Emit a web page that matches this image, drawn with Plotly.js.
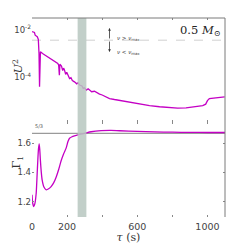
<!DOCTYPE html>
<html><head><meta charset="utf-8">
<script src="https://cdn.plot.ly/plotly-3.0.1.min.js"></script>
<style>html,body{margin:0;padding:0;background:#fff}#plot{width:249px;height:245px}</style>
</head><body><div id="plot"></div>
<script>
// U^2 versus acoustic radius tau (s)
const tauU = [0,5,10,14,18,24,30,36,40,43,45,48,60,80,100,120,135,147,152,156,159,168,175,180,185,192,198,206,214,222,230,242,255,263,271,285,292,299,310,320,328,340,356,370,385,400,420,442,470,499,550,613,670,727,783,830,878,930,973,990,1000,1011,1030,1060,1098];
const u2 = [8.5e-3,8.3e-3,7.8e-3,7.9e-3,6.0e-3,5.8e-3,5.2e-3,4.0e-3,1.0e-3,3.9e-5,6.3e-4,1.2e-3,1.0e-3,7.9e-4,6.3e-4,5.2e-4,4.5e-4,3.8e-4,3.2e-4,1.2e-4,3.5e-4,2.95e-4,1.9e-4,2.4e-4,2.0e-4,1.3e-4,1.6e-4,1.05e-4,8.7e-5,9.5e-5,7.2e-5,6.3e-5,5.2e-5,5.8e-5,4.6e-5,4.2e-5,3.3e-5,3.5e-5,2.8e-5,3.2e-5,2.75e-5,2.4e-5,2.5e-5,2.1e-5,1.9e-5,1.74e-5,1.45e-5,1.23e-5,1.12e-5,1.02e-5,8.7e-6,7.4e-6,6.2e-6,5.5e-6,5.0e-6,4.8e-6,4.9e-6,5.4e-6,6.2e-6,7.1e-6,1.0e-5,1.23e-5,1.26e-5,1.35e-5,1.45e-5];
// Gamma_1 versus tau
const tauG = [0,4,10,16,24,29,33,37,41,44,48,53,58,68,81,95,109,124,138,152,166,180,195,205,214,228,242,271,299,337,394,450,500,600,700,800,900,1000,1100];
const gamma1 = [1.248,1.19,1.167,1.185,1.26,1.38,1.48,1.56,1.595,1.56,1.48,1.40,1.347,1.30,1.281,1.288,1.303,1.33,1.369,1.42,1.479,1.525,1.567,1.61,1.633,1.643,1.649,1.659,1.666,1.677,1.685,1.687,1.684,1.679,1.676,1.674,1.673,1.672,1.672];
const nuMaxLevel = 3.7e-3;   // U^2 level of nu = nu_max
const gammaIdeal = 5/3;
const bandTau = [260, 310];
const xTickVals = [0,200,600,1000];
const xTickText = ['0','200','600','1000'];
const uTickVals = [1e-2,1e-4];
const uTickText = ['10<sup>-2</sup>','10<sup>-4</sup>'];
const gTickVals = [1.2,1.4,1.6];
const gTickText = ['1.2','1.4','1.6'];

const mag = '#c400c4';
const tickFont = {family:'DejaVu Sans', size:8.5, color:'#444'};
const traces = [
  {x:[0,1100], y:[nuMaxLevel,nuMaxLevel], xaxis:'x2', yaxis:'y', mode:'lines', line:{color:'#c4c4c4', width:0.8, dash:'dash'}, hoverinfo:'skip'},
  {x:tauU, y:u2, xaxis:'x2', yaxis:'y', mode:'lines', line:{color:mag, width:1.3}},
  {x:[0,1100], y:[gammaIdeal,gammaIdeal], xaxis:'x', yaxis:'y2', mode:'lines', line:{color:'#9a9a9a', width:1.2}, hoverinfo:'skip'},
  {x:tauG, y:gamma1, xaxis:'x', yaxis:'y2', mode:'lines', line:{color:mag, width:1.3, shape:'spline', smoothing:0.6}}
];
const xbase = {range:[0,1100], tickvals:xTickVals, ticktext:xTickText, ticks:'inside', ticklen:2, tickcolor:'#888', mirror:'ticks',
  minor:{tick0:0, dtick:200, ticks:'inside', ticklen:2, tickcolor:'#888', showgrid:false},
  showline:false, showgrid:false, zeroline:false, tickfont:{family:'DejaVu Sans', size:9.5, color:'#444'}};
const layout = {
  width:249, height:245, margin:{l:32,r:24,t:18,b:28},
  paper_bgcolor:'#fff', plot_bgcolor:'#fff', showlegend:false,
  xaxis: Object.assign({}, xbase, {anchor:'y2', ticklabelstandoff:2,
    title:{text:'<i>τ</i> (s)', font:{family:'DejaVu Serif', size:11, color:'#333'}, standoff:0}}),
  xaxis2: Object.assign({}, xbase, {anchor:'y', matches:'x', showticklabels:false}),
  yaxis: {domain:[0.477,1], anchor:'x2', type:'log', range:[-5.91,-1.49], tickvals:uTickVals, ticktext:uTickText, ticks:'', showgrid:false, zeroline:false, showline:false, tickfont:tickFont},
  yaxis2: {domain:[0,0.477], anchor:'x', range:[1.096,1.743], tickvals:gTickVals, ticktext:gTickText, ticks:'inside', ticklen:2, tickcolor:'#888', mirror:'ticks', showgrid:false, zeroline:false, showline:false, tickfont:tickFont},
  shapes:[
    {type:'rect', xref:'x', yref:'paper', x0:bandTau[0], x1:bandTau[1], y0:0, y1:1, fillcolor:'#b7c7bf', line:{width:0}, layer:'above', opacity:0.85},
    {type:'line', xref:'paper', yref:'paper', x0:0, x1:1, y0:1, y1:1, line:{color:'#7a7a7a', width:1}},
    {type:'line', xref:'paper', yref:'paper', x0:1, x1:1, y0:0, y1:1, line:{color:'#7a7a7a', width:1}}
  ],
  annotations:[
    {xref:'paper', yref:'paper', x:-0.119, y:0.80, text:'<i>U</i><sup>2</sup>', showarrow:false, textangle:-90, font:{family:'DejaVu Serif', size:11, color:'#333'}},
    {xref:'paper', yref:'paper', x:-0.125, y:0.236, text:'Γ<sub>1</sub>', showarrow:false, textangle:-90, font:{family:'DejaVu Serif', size:11, color:'#333'}},
    {xref:'paper', yref:'paper', x:0.984, y:0.985, xanchor:'right', yanchor:'top', text:'0.5 <i>M</i><sub>⊙</sub>', showarrow:false, font:{family:'DejaVu Serif', size:11.5, color:'#222'}},
    {xref:'paper', yref:'paper', x:0.4016, y:0.950, ax:0, ay:12, text:'', showarrow:true, arrowhead:2, arrowsize:0.7, arrowwidth:0.8, arrowcolor:'#333'},
    {xref:'paper', yref:'paper', x:0.4016, y:0.829, ax:0, ay:-12, text:'', showarrow:true, arrowhead:2, arrowsize:0.7, arrowwidth:0.8, arrowcolor:'#333'},
    {xref:'paper', yref:'paper', x:0.43, y:0.925, xanchor:'left', text:'<i>ν</i> > <i>ν</i><sub>max</sub>', showarrow:false, font:{family:'DejaVu Sans', size:5.5, color:'#444'}},
    {xref:'paper', yref:'paper', x:0.43, y:0.856, xanchor:'left', text:'<i>ν</i> < <i>ν</i><sub>max</sub>', showarrow:false, font:{family:'DejaVu Sans', size:5.5, color:'#444'}},
    {xref:'paper', yref:'paper', x:0.005, y:0.455, xanchor:'left', text:'5/3', showarrow:false, font:{family:'DejaVu Sans', size:5, color:'#555'}}
  ]
};
Plotly.newPlot('plot', traces, layout, {staticPlot:true, displayModeBar:false});
</script></body></html>
